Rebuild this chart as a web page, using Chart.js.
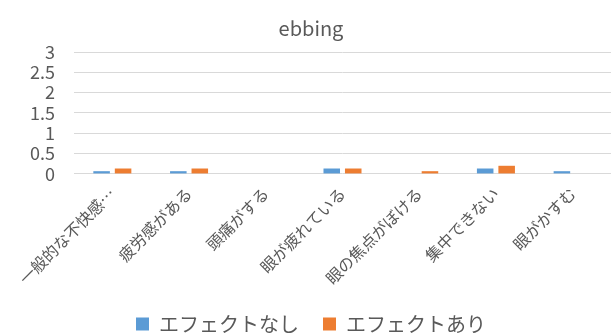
<!DOCTYPE html>
<html>
<head>
<meta charset="utf-8">
<script src="https://cdn.jsdelivr.net/npm/chart.js@4/dist/chart.umd.min.js"></script>
<style>
  html, body { margin: 0; padding: 0; background: #fff; }
  #wrap { position: relative; width: 614px; height: 333px; }
</style>
</head>
<body>
<div id="wrap"><canvas id="chart"></canvas></div>
<script>
// Data
const categories = ['一般的な不快感…', '疲労感がある', '頭痛がする', '眼が疲れている', '眼の焦点がぼける', '集中できない', '眼がかすむ'];
const seriesNames = ['エフェクトなし', 'エフェクトあり'];
const noEffect = [0.067, 0.067, 0, 0.133, 0, 0.133, 0.067];
const withEffect = [0.133, 0.133, 0, 0.133, 0.067, 0.2, 0];
const yTicks = [0, 0.5, 1, 1.5, 2, 2.5, 3];

const FONT = '"Noto Sans CJK JP", "Noto Sans", sans-serif';
Chart.defaults.font.family = FONT;
Chart.defaults.color = '#595959';

new Chart(document.getElementById('chart'), {
  type: 'bar',
  data: {
    labels: categories,
    datasets: [
      { label: seriesNames[0], data: noEffect, backgroundColor: '#5B9BD5' },
      { label: seriesNames[1], data: withEffect, backgroundColor: '#ED7D31' },
    ],
  },
  options: {
    responsive: true,
    maintainAspectRatio: false,
    animation: false,
    categoryPercentage: 0.56,
    barPercentage: 0.77,
    layout: { padding: { left: 11, right: 3, top: 16, bottom: -11 } },
    plugins: {
      title: { display: true, text: 'ebbing', font: { size: 20, weight: 'normal' }, color: '#595959', padding: { top: 0, bottom: 12 } },
      legend: {
        position: 'bottom',
        labels: { boxWidth: 13, boxHeight: 13, font: { size: 20 }, color: '#595959', padding: 24 },
      },
      tooltip: { enabled: false },
    },
    scales: {
      x: {
        grid: { display: false },
        border: { display: false },
        // the long first label should hang left of the plot instead of squeezing it
        afterFit: (axis) => { axis.paddingLeft = 0; axis.paddingRight = 0; },
        ticks: { minRotation: 45, maxRotation: 45, font: { size: 16 }, color: '#595959', autoSkip: false, padding: 2 },
      },
      y: {
        min: 0, max: 3,
        afterBuildTicks: (axis) => { axis.ticks = yTicks.map((v) => ({ value: v })); },
        grid: { color: '#d9d9d9', drawTicks: false },
        border: { display: false },
        ticks: { font: { size: 18, lineHeight: 1 }, color: '#595959', padding: 19, autoSkip: false, callback: (v) => String(v) },
      },
    },
  },
});
</script>
</body>
</html>
